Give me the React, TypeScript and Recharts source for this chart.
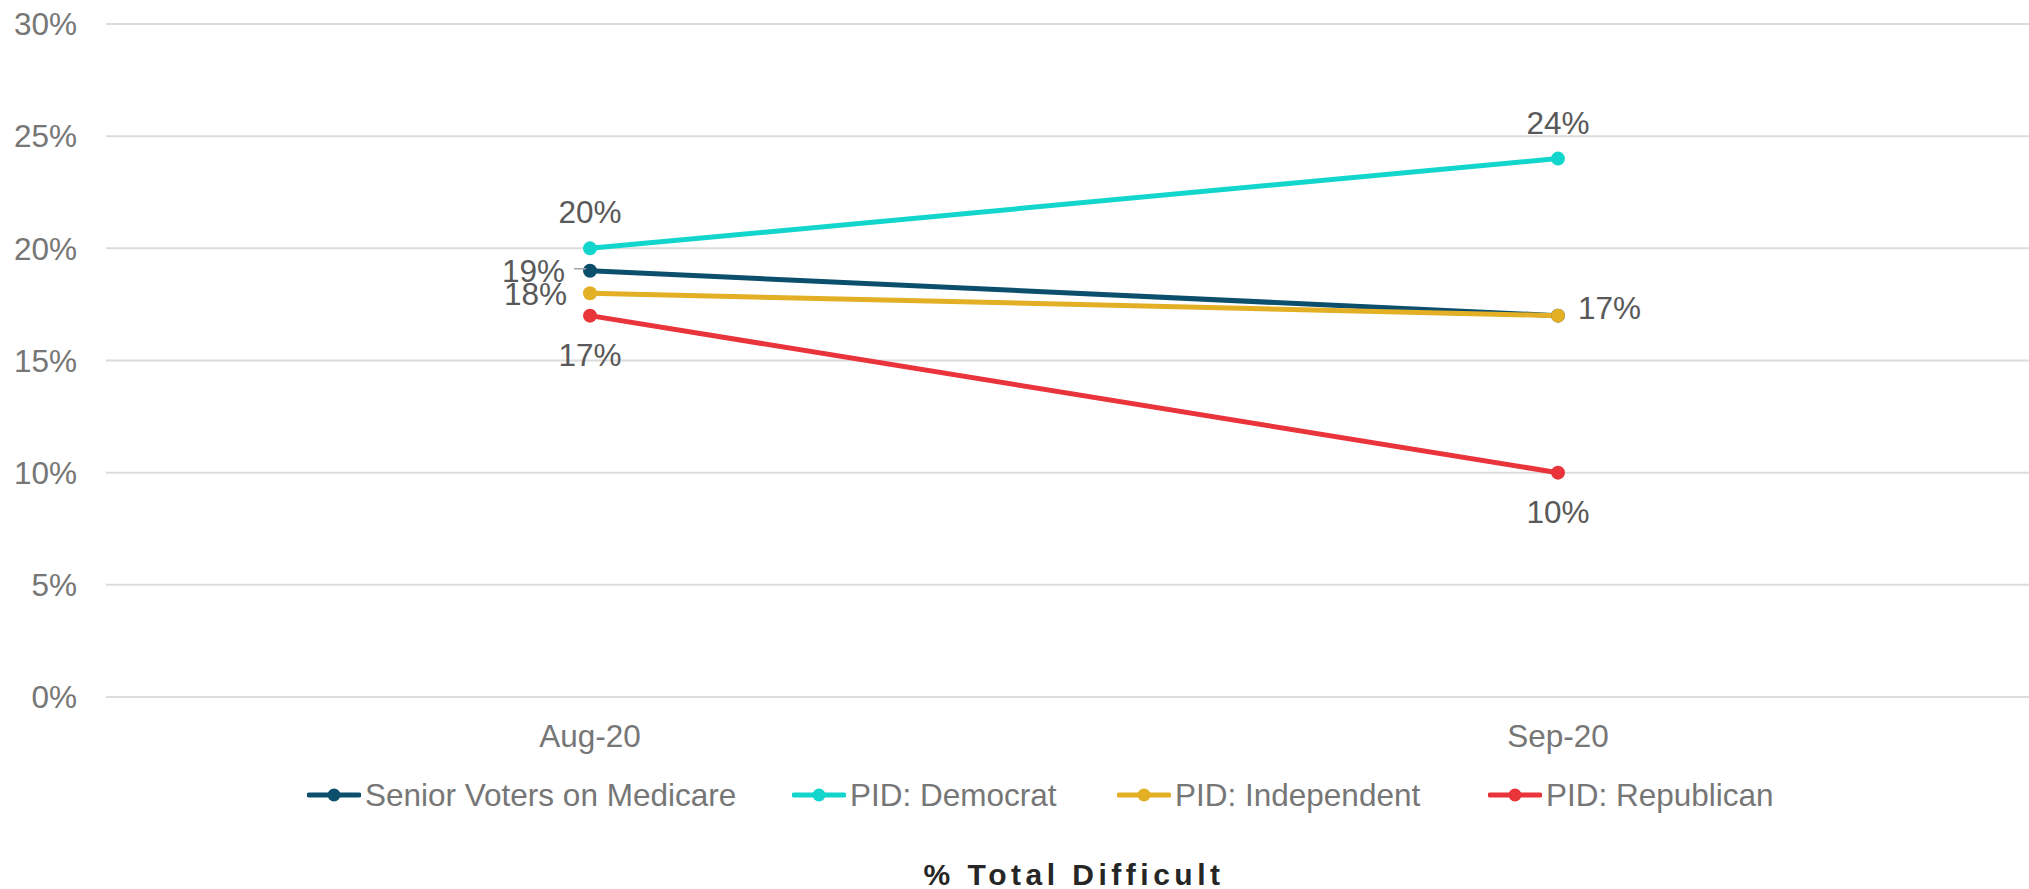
import React from 'react';
import { LineChart, Line, XAxis, YAxis, CartesianGrid, LabelList } from 'recharts';

// Chart values
const months = ['Aug-20', 'Sep-20'];
const seniorVoters = [19, 17];
const democrat = [20, 24];
const independent = [18, 17];
const republican = [17, 10];
const yTicks = [0, 5, 10, 15, 20, 25, 30];

// where each point's label sits (null = no label)
const seniorLabels = ['left-leader', null];
const democratLabels = ['top', 'top'];
const independentLabels = ['left', 'right'];
const republicanLabels = ['bottom', 'bottom'];

const series = [
  { key: 'senior', name: 'Senior Voters on Medicare', color: '#0B4F6C', values: seniorVoters, labels: seniorLabels },
  { key: 'dem', name: 'PID: Democrat', color: '#12D6CB', values: democrat, labels: democratLabels },
  { key: 'ind', name: 'PID: Independent', color: '#E2AF25', values: independent, labels: independentLabels },
  { key: 'rep', name: 'PID: Republican', color: '#E8343A', values: republican, labels: republicanLabels },
];

// legend slot x positions (px)
const legendX = [307, 792, 1117, 1488];

const data = months.map((m, i) => {
  const row: Record<string, any> = { month: m };
  series.forEach((s) => (row[s.key] = s.values[i]));
  return row;
});

const FONT = '"Liberation Sans", Arial, sans-serif';
const FS = 31.5;

const makeLabel = (positions: (string | null)[]) => (props: any) => {
  const { x, y, value, index } = props;
  const pos = positions[index];
  if (!pos || x == null || y == null) return null;
  const common = { fontFamily: FONT, fontSize: FS, fill: '#595959' };
  if (pos === 'top') {
    return <text x={x} y={y - 25} textAnchor="middle" {...common}>{`${value}%`}</text>;
  }
  if (pos === 'bottom') {
    return <text x={x} y={y + 50} textAnchor="middle" {...common}>{`${value}%`}</text>;
  }
  if (pos === 'right') {
    return <text x={x + 20} y={y + 3} textAnchor="start" {...common}>{`${value}%`}</text>;
  }
  if (pos === 'left-leader') {
    return (
      <g>
        <line x1={x - 16} y1={y - 2} x2={x - 4} y2={y - 2} stroke="#a6a6a6" strokeWidth={1.5} />
        <text x={x - 25} y={y + 11} textAnchor="end" {...common}>{`${value}%`}</text>
      </g>
    );
  }
  return <text x={x - 23} y={y + 12} textAnchor="end" {...common}>{`${value}%`}</text>;
};

const LegendRow: React.FC = () => (
  <div style={{ position: 'absolute', left: 0, top: 777, width: 2029, height: 36 }}>
    {series.map((s, i) => (
      <div
        key={s.key}
        style={{
          position: 'absolute',
          left: legendX[i],
          top: 0,
          height: 36,
          display: 'flex',
          alignItems: 'center',
          fontFamily: FONT,
          fontSize: FS,
          color: '#767676',
          whiteSpace: 'nowrap',
        }}
      >
        <svg width={54} height={20} style={{ marginRight: 4 }}>
          <line x1={2} y1={10} x2={52} y2={10} stroke={s.color} strokeWidth={5} strokeLinecap="round" />
          <circle cx={27} cy={10} r={6.5} fill={s.color} />
        </svg>
        <span>{s.name}</span>
      </div>
    ))}
  </div>
);

export default function App() {
  return (
    <div style={{ position: 'absolute', left: 0, top: 0, width: 2029, height: 889, overflow: 'hidden', background: '#fff' }}>
      <LineChart width={2042} height={889} data={data} margin={{ top: 24, right: 0, bottom: 162, left: 0 }}>
        <CartesianGrid vertical={false} stroke="#dcdcdc" strokeWidth={2} />
        <XAxis
          dataKey="month"
          height={30}
          padding={{ left: 484, right: 484 }}
          axisLine={false}
          tickLine={false}
          tickSize={0}
          tickMargin={28}
          tick={{ fontFamily: FONT, fontSize: FS, fill: '#767676' }}
        />
        <YAxis
          domain={[0, 30]}
          ticks={yTicks}
          width={106}
          axisLine={false}
          tickLine={false}
          tickSize={0}
          tickMargin={29}
          tickFormatter={(v: number) => `${v}%`}
          tick={{ fontFamily: FONT, fontSize: FS, fill: '#767676' }}
        />
        {series.map((s) => (
          <Line
            key={s.key}
            dataKey={s.key}
            name={s.name}
            stroke={s.color}
            strokeWidth={5}
            dot={{ r: 7, fill: s.color, stroke: s.color, strokeWidth: 0 }}
            isAnimationActive={false}
          >
            <LabelList dataKey={s.key} content={makeLabel(s.labels)} />
          </Line>
        ))}
      </LineChart>
      <LegendRow />
      <div
        style={{
          position: 'absolute',
          left: 0,
          top: 860,
          width: 2148,
          textAlign: 'center',
          lineHeight: '30px',
          fontFamily: FONT,
          fontSize: 30,
          fontWeight: 'bold',
          letterSpacing: 4.5,
          color: '#262626',
        }}
      >
        % Total Difficult
      </div>
    </div>
  );
}
